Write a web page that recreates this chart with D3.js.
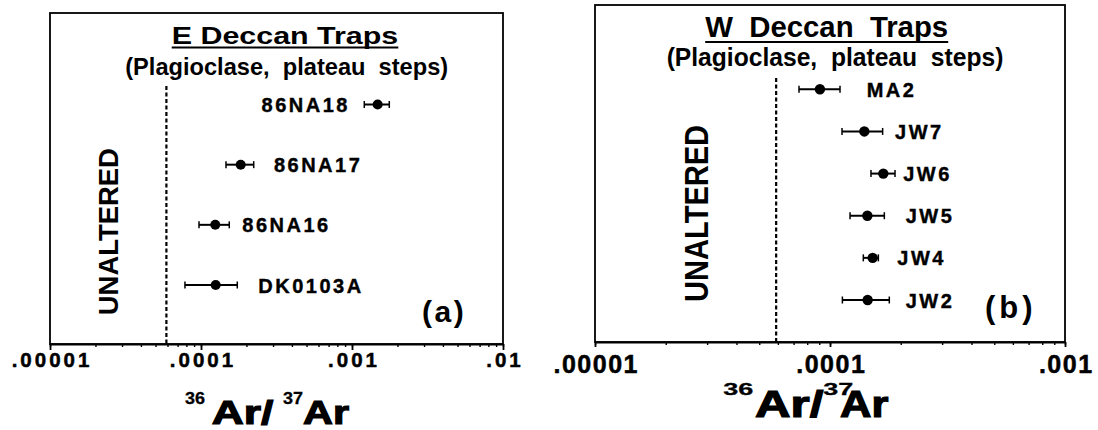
<!DOCTYPE html>
<html><head><meta charset="utf-8">
<script src="https://cdn.jsdelivr.net/npm/d3@7"></script>
<style>
html,body{margin:0;padding:0;background:#fff;}
svg{display:block;font-family:"Liberation Sans",Arial,Helvetica,sans-serif;}
</style></head><body>
<svg id="chart" width="1098" height="430"></svg>
<script>
// ---------- data ----------
// Panel (a): E Deccan Traps
const eSamples = ["86NA18", "86NA17", "86NA16", "DK0103A"];
const eValues  = [1.479e-3, 1.832e-4, 1.243e-4, 1.251e-4];
const eLow     = [1.206e-3, 1.464e-4, 9.70e-5, 7.83e-5];
const eHigh    = [1.766e-3, 2.234e-4, 1.539e-4, 1.739e-4];
const eLabelAt = [9.70e-4, 3.04e-4, 1.877e-4, 2.396e-4];
const eLabelAnchor = ["end", "start", "start", "start"];
const eTicks = [1e-5, 1e-4, 1e-3, 1e-2];
const eTickLabels = [".00001", ".0001", ".001", ".01"];

// Panel (b): W Deccan Traps
const wSamples = ["MA2", "JW7", "JW6", "JW5", "JW4", "JW2"];
const wValues  = [9.06e-5, 1.40e-4, 1.686e-4, 1.442e-4, 1.519e-4, 1.446e-4];
const wLow     = [7.38e-5, 1.125e-4, 1.494e-4, 1.217e-4, 1.386e-4, 1.129e-4];
const wHigh    = [1.103e-4, 1.675e-4, 1.891e-4, 1.703e-4, 1.606e-4, 1.788e-4];
const wLabelAt = [1.432e-4, 1.891e-4, 2.05e-4, 2.10e-4, 1.934e-4, 2.10e-4];
const wLabelAnchor = ["start", "start", "start", "start", "start", "start"];
const wTicks = [1e-5, 1e-4, 1e-3];
const wTickLabels = [".00001", ".0001", ".001"];

const unalteredLimit = 5.9e-5;

// ---------- drawing ----------
const svg = d3.select("#chart");

function panel(c) {
  const g = svg.append("g");
  const x = d3.scaleLog().domain(c.domain).range([c.left, c.right]);
  const y = d3.scalePoint().domain(c.samples).range([c.rowTop, c.rowBottom]);

  // frame
  g.append("rect").attr("x", c.left).attr("y", c.top)
    .attr("width", c.right - c.left).attr("height", c.bottom - c.top)
    .attr("fill", "none").attr("stroke", "#000").attr("stroke-width", 1.8);

  // minor ticks
  g.append("g").attr("transform", `translate(0,${c.bottom})`)
    .call(d3.axisBottom(x).tickValues(x.ticks()).tickFormat("").tickSizeInner(c.minorLen).tickSizeOuter(0))
    .call(a => a.select(".domain").remove())
    .call(a => a.selectAll("line").attr("stroke-width", 1.4));
  // major ticks + labels
  const lab = d3.scaleOrdinal().domain(c.ticks).range(c.tickLabels);
  g.append("g").attr("transform", `translate(0,${c.bottom})`)
    .call(d3.axisBottom(x).tickValues(c.ticks).tickFormat(d => lab(d)).tickSizeInner(c.majorLen).tickSizeOuter(0))
    .call(a => a.select(".domain").attr("stroke-width", 1.8))
    .call(a => a.selectAll("line").attr("stroke-width", 1.8))
    .call(a => a.selectAll("text").attr("y", c.tickBase).attr("dy", null)
      .attr("font-size", c.tickFont).attr("font-weight", "bold").attr("fill", "#000")
      .attr("stroke", "#000").attr("stroke-width", 0.5)
      .attr("letter-spacing", c.tickSpacing).attr("dx", c.tickSpacing / 2)
      .attr("font-family", '"Liberation Sans", Arial, sans-serif'));

  // dashed "unaltered" line
  g.append("line").attr("x1", x(unalteredLimit)).attr("x2", x(unalteredLimit))
    .attr("y1", c.dashTop).attr("y2", c.bottom)
    .attr("stroke", "#000").attr("stroke-width", 2.2).attr("stroke-dasharray", "4,2.5");

  // UNALTERED
  g.append("text").attr("transform", `translate(${c.unX},${c.unY}) rotate(-90)`)
    .attr("text-anchor", "middle").attr("y", c.unFont * 0.36)
    .attr("font-size", c.unFont).attr("font-weight", "bold")
    .attr("textLength", c.unLen).attr("lengthAdjust", "spacingAndGlyphs")
    .text("UNALTERED");

  // title + underline
  g.append("text").attr("x", c.titleX).attr("y", c.titleY).attr("text-anchor", "middle")
    .attr("font-size", c.titleFont).attr("font-weight", "bold").style("white-space", "pre")
    .attr("textLength", c.titleLen).attr("lengthAdjust", "spacingAndGlyphs")
    .text(c.title);
  g.append("line").attr("x1", c.titleX - c.titleLen / 2).attr("x2", c.titleX + c.titleLen / 2)
    .attr("y1", c.ulY).attr("y2", c.ulY).attr("stroke", "#000").attr("stroke-width", 2);
  g.append("text").attr("x", c.subX).attr("y", c.subY).attr("text-anchor", "middle")
    .attr("font-size", c.subFont).attr("font-weight", "bold").style("white-space", "pre")
    .attr("textLength", c.subLen).attr("lengthAdjust", "spacingAndGlyphs")
    .text(c.subtitle);

  // data
  const rows = c.samples.map((s, i) => ({s, v: c.values[i], lo: c.low[i], hi: c.high[i], la: c.labelAt[i], anchor: c.anchor[i]}));
  const r = g.selectAll("g.row").data(rows).join("g").attr("class", "row");
  r.append("line").attr("x1", d => x(d.lo)).attr("x2", d => x(d.hi))
    .attr("y1", d => y(d.s)).attr("y2", d => y(d.s)).attr("stroke", "#000").attr("stroke-width", 2);
  r.append("line").attr("x1", d => x(d.lo)).attr("x2", d => x(d.lo))
    .attr("y1", d => y(d.s) - c.cap).attr("y2", d => y(d.s) + c.cap).attr("stroke", "#000").attr("stroke-width", 1.5);
  r.append("line").attr("x1", d => x(d.hi)).attr("x2", d => x(d.hi))
    .attr("y1", d => y(d.s) - c.cap).attr("y2", d => y(d.s) + c.cap).attr("stroke", "#000").attr("stroke-width", 1.5);
  r.append("circle").attr("cx", d => x(d.v)).attr("cy", d => y(d.s)).attr("r", c.dot).attr("fill", "#000");
  r.append("text").attr("x", d => x(d.la)).attr("y", d => y(d.s) + 7.5)
    .attr("text-anchor", d => d.anchor).attr("font-size", c.labFont).attr("font-weight", "bold")
    .attr("stroke", "#000").attr("stroke-width", 0.4)
    .attr("letter-spacing", c.labSpacing).text(d => d.s);

  // panel letter
  g.append("text").attr("x", c.letX).attr("y", c.letY).attr("text-anchor", "start")
    .attr("font-size", c.letFont).attr("font-weight", "bold")
    .attr("letter-spacing", c.letSpacing).text(c.letter);

  // axis title 36Ar/37Ar
  const at = c.axisTitle;
  const parts = [
    {t: "36", x: at[0], w: at[1], sup: true},
    {t: "Ar/", x: at[2], w: at[3], sup: false},
    {t: "37", x: at[4], w: at[5], sup: true},
    {t: "Ar", x: at[6], w: at[7], sup: false}
  ];
  g.selectAll("text.at").data(parts).join("text").attr("class", "at")
    .attr("x", d => d.x).attr("y", d => d.sup ? c.supBase : c.atBase)
    .attr("font-size", d => d.sup ? c.supFont : c.atFont).attr("font-weight", "bold")
    .attr("stroke", "#000").attr("stroke-width", d => d.sup ? 0.3 : 1.2)
    .attr("textLength", d => d.w).attr("lengthAdjust", "spacingAndGlyphs")
    .text(d => d.t);
}

panel({
  domain: [1e-5, 1e-2], left: 50, right: 503, top: 13, bottom: 344,
  samples: eSamples, values: eValues, low: eLow, high: eHigh, labelAt: eLabelAt, anchor: eLabelAnchor,
  rowTop: 104.5, rowBottom: 285,
  ticks: eTicks, tickLabels: eTickLabels, minorLen: 3, majorLen: 6, tickBase: 23, tickFont: 20.5, tickSpacing: 3,
  dashTop: 86,
  unX: 108.3, unY: 231.7, unFont: 28, unLen: 167,
  title: "E Deccan Traps", titleX: 285, titleY: 43.5, titleFont: 24, titleLen: 226.6, ulY: 47.5,
  subtitle: "(Plagioclase,  plateau  steps)", subX: 286.7, subY: 75, subFont: 24, subLen: 323,
  cap: 3.5, dot: 5, labFont: 20, labSpacing: 2.5,
  letter: "(a)", letX: 422, letY: 322, letFont: 30, letSpacing: 2.5,
  axisTitle: [185, 20, 211.7, 61.6, 283, 20, 303, 46],
  supBase: 404, supFont: 17, atBase: 424, atFont: 34
});

panel({
  domain: [1e-5, 1e-3], left: 595, right: 1065, top: 5, bottom: 342,
  samples: wSamples, values: wValues, low: wLow, high: wHigh, labelAt: wLabelAt, anchor: wLabelAnchor,
  rowTop: 89.3, rowBottom: 300,
  ticks: wTicks, tickLabels: wTickLabels, minorLen: 3, majorLen: 5, tickBase: 31, tickFont: 25, tickSpacing: 1.5,
  dashTop: 78,
  unX: 695.6, unY: 213.4, unFont: 34, unLen: 177,
  title: "W  Deccan  Traps", titleX: 826.7, titleY: 37, titleFont: 30, titleLen: 243, ulY: 42,
  subtitle: "(Plagioclase,  plateau  steps)", subX: 835, subY: 66, subFont: 26, subLen: 336.7,
  cap: 3.5, dot: 5.2, labFont: 20, labSpacing: 2.5,
  letter: "(b)", letX: 985, letY: 318, letFont: 31, letSpacing: 4,
  axisTitle: [723.3, 30, 755, 68.3, 823.3, 30, 840, 48.3],
  supBase: 395, supFont: 17, atBase: 416.7, atFont: 37
});
</script>
</body></html>
